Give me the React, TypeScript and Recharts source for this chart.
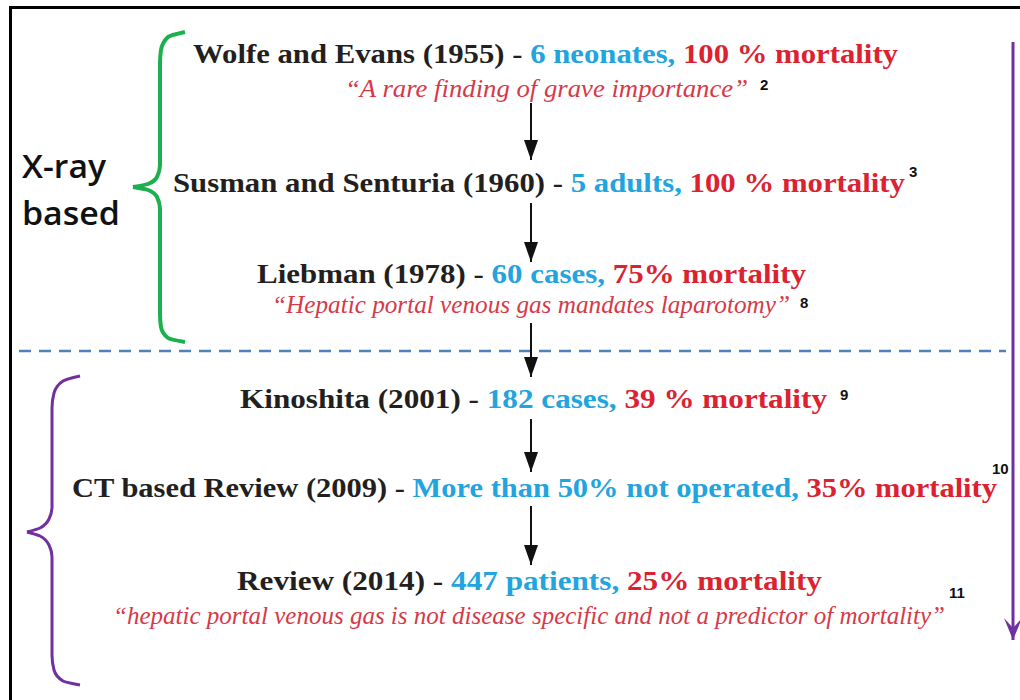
import React from "react";
import { ComposedChart, XAxis, YAxis, Line, Scatter } from "recharts";

// ---- content ----
const studies = [
  "Wolfe and Evans (1955)",
  "Susman and Senturia (1960)",
  "Liebman (1978)",
  "Kinoshita (2001)",
  "CT based Review (2009)",
  "Review (2014)",
];
const cohorts = [
  "6 neonates,",
  "5 adults,",
  "60 cases,",
  "182 cases,",
  "More than 50% not operated,",
  "447 patients,",
];
const mortalities = [
  "100 % mortality",
  "100 % mortality",
  "75% mortality",
  "39 % mortality",
  "35% mortality",
  "25% mortality",
];
const refs = ["2", "3", "8", "9", "10", "11"];
const quotes = [
  "\u201CA rare finding of grave importance\u201D",
  "\u201CHepatic portal venous gas mandates laparotomy\u201D",
  "\u201Chepatic portal venous gas is not disease specific and not a predictor of mortality\u201D",
];
const sideLabels = ["X-ray", "based"];

// ---- layout (diagram coordinates, 1 unit = 1 px) ----
const rowX = [193, 173, 257, 240, 72, 237];
const rowY = [63, 192, 283, 408, 497, 590];
const rowW = [705, 732, 549, 587, 925, 585];
const quoteX = [345, 272, 113];
const quoteY = [97, 313, 624];
const quoteW = [403, 518, 832];
const refX = [760, 909, 800, 840, 992, 949];
const refY = [90, 177, 308, 400, 474, 598];
const sideX = [22, 22];
const sideY = [178, 225];
const sideW = [84, 98];

const arrowX = 531;
const arrowTop = [103, 203, 323, 419, 506];
const arrowTip = [160, 262, 377, 472, 565];

const greenBraceTop = [
  [185, 32], [168, 37], [161, 50], [160, 63], [160, 165], [157, 177], [148, 184], [133, 187],
];
const greenBraceBottom = [
  [133, 187], [148, 190], [157, 197], [160, 209], [160, 314], [161, 327], [168, 338], [185, 342],
];
const purpleBraceTop = [
  [80, 376], [63, 381], [54, 393], [52, 408], [52, 507], [49, 519], [40, 528], [27, 532],
];
const purpleBraceBottom = [
  [27, 532], [40, 536], [49, 545], [52, 557], [52, 655], [54, 670], [63, 681], [80, 685],
];
const borderPts = [[10.5, 700], [10.5, 7.5], [1020, 7.5]];
const dividerPts = [[19, 351], [1006, 351]];
const timelinePts = [[1013, 42], [1013, 640]];

const C_DARK = "#231f20";
const C_BLUE = "#22a4de";
const C_RED = "#dc2230";
const C_QUOTE = "#d63a48";

const pts = (a: number[][], head = false) =>
  a.map((p, i) => ({ x: p[0], y: p[1], head: head && i === a.length - 1 }));

const rowData = studies.map((s, i) => ({ x: rowX[i], y: rowY[i], i }));
const quoteData = quotes.map((q, i) => ({ x: quoteX[i], y: quoteY[i], i }));
const refData = refs.map((r, i) => ({ x: refX[i], y: refY[i], i }));
const sideData = sideLabels.map((s, i) => ({ x: sideX[i], y: sideY[i], i }));

const serif = "'Liberation Serif', 'Times New Roman', serif";

const RowShape = (p: any) => {
  const i = p.payload.i;
  return (
    <text
      x={p.cx}
      y={p.cy}
      fontFamily={serif}
      fontWeight="bold"
      fontSize={27}
      textLength={rowW[i]}
      lengthAdjust="spacingAndGlyphs"
    >
      <tspan fill={C_DARK}>{studies[i] + " - "}</tspan>
      <tspan fill={C_BLUE}>{cohorts[i] + " "}</tspan>
      <tspan fill={C_RED}>{mortalities[i]}</tspan>
    </text>
  );
};

const QuoteShape = (p: any) => {
  const i = p.payload.i;
  return (
    <text
      x={p.cx}
      y={p.cy}
      fontFamily={serif}
      fontStyle="italic"
      fontSize={25}
      fill={C_QUOTE}
      textLength={quoteW[i]}
      lengthAdjust="spacingAndGlyphs"
    >
      {quotes[i]}
    </text>
  );
};

const RefShape = (p: any) => (
  <text
    x={p.cx}
    y={p.cy}
    fontFamily="'Liberation Sans', Arial, sans-serif"
    fontWeight="bold"
    fontSize={15}
    fill="#111"
  >
    {refs[p.payload.i]}
  </text>
);

const SideShape = (p: any) => (
  <text
    x={p.cx}
    y={p.cy}
    fontFamily="'Open Sans', sans-serif"
    fontWeight={600}
    fontSize={33}
    fill="#111"
    textLength={sideW[p.payload.i]}
    lengthAdjust="spacingAndGlyphs"
  >
    {sideLabels[p.payload.i]}
  </text>
);

const blackHead = (p: any) => {
  if (!p.payload || !p.payload.head) return <g key={p.key} />;
  const { cx, cy } = p;
  return (
    <polygon
      key={p.key}
      points={`${cx - 7},${cy - 20} ${cx + 7},${cy - 20} ${cx},${cy}`}
      fill="#111"
    />
  );
};

const purpleHead = (p: any) => {
  if (!p.payload || !p.payload.head) return <g key={p.key} />;
  const { cx, cy } = p;
  return (
    <polygon
      key={p.key}
      points={`${cx - 9},${cy - 22} ${cx},${cy - 12} ${cx + 9},${cy - 22} ${cx},${cy}`}
      fill="#7030a0"
    />
  );
};

export default function App() {
  return (
    <div
      style={{
        position: "absolute",
        left: 0,
        top: 0,
        width: 1020,
        height: 700,
        background: "#fff",
      }}
    >
      <ComposedChart
        width={1020}
        height={700}
        margin={{ top: 0, right: 0, bottom: 0, left: 0 }}
      >
        <XAxis type="number" dataKey="x" domain={[0, 1020]} allowDataOverflow hide />
        <YAxis type="number" dataKey="y" domain={[0, 700]} allowDataOverflow reversed hide />

        <Line data={pts(borderPts)} dataKey="y" type="linear" stroke="#000" strokeWidth={3} dot={false} activeDot={false} isAnimationActive={false} />
        <Line data={pts(dividerPts)} dataKey="y" type="linear" stroke="#4f81bd" strokeWidth={2.5} strokeDasharray="12 8" dot={false} activeDot={false} isAnimationActive={false} />
        <Line data={pts(timelinePts, true)} dataKey="y" type="linear" stroke="#7030a0" strokeWidth={3} dot={purpleHead} activeDot={false} isAnimationActive={false} />

        <Line data={pts(greenBraceTop)} dataKey="y" type="monotoneY" stroke="#1db04f" strokeWidth={4} dot={false} activeDot={false} isAnimationActive={false} />
        <Line data={pts(greenBraceBottom)} dataKey="y" type="monotoneY" stroke="#1db04f" strokeWidth={4} dot={false} activeDot={false} isAnimationActive={false} />
        <Line data={pts(purpleBraceTop)} dataKey="y" type="monotoneY" stroke="#7030a0" strokeWidth={3} dot={false} activeDot={false} isAnimationActive={false} />
        <Line data={pts(purpleBraceBottom)} dataKey="y" type="monotoneY" stroke="#7030a0" strokeWidth={3} dot={false} activeDot={false} isAnimationActive={false} />

        {arrowTop.map((t, i) => (
          <Line
            key={"arrow" + i}
            data={pts([[arrowX, t], [arrowX, arrowTip[i]]], true)}
            dataKey="y"
            type="linear"
            stroke="#111"
            strokeWidth={2}
            dot={blackHead}
            activeDot={false}
            isAnimationActive={false}
          />
        ))}

        <Scatter data={sideData} dataKey="y" shape={SideShape} isAnimationActive={false} />
        <Scatter data={rowData} dataKey="y" shape={RowShape} isAnimationActive={false} />
        <Scatter data={quoteData} dataKey="y" shape={QuoteShape} isAnimationActive={false} />
        <Scatter data={refData} dataKey="y" shape={RefShape} isAnimationActive={false} />
      </ComposedChart>
    </div>
  );
}
